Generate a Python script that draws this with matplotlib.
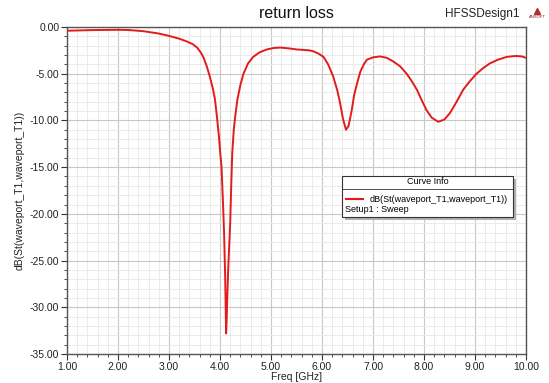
import numpy as np
import matplotlib
matplotlib.use("Agg")
from matplotlib import pyplot as plt
from matplotlib.patches import Rectangle
from matplotlib.lines import Line2D
from matplotlib.ticker import MultipleLocator, FormatStrFormatter

plt.rcParams['font.family'] = ['Liberation Sans', 'DejaVu Sans']

# values (GHz, dB)
freq = [1.0, 1.5, 2.0, 2.2, 2.5, 2.8, 3.0, 3.2, 3.35, 3.47, 3.55, 3.62, 3.68,
        3.74, 3.80, 3.86, 3.90, 3.94, 3.98, 4.01, 4.03, 4.06, 4.08, 4.10, 4.11,
        4.12, 4.13, 4.14, 4.16, 4.18, 4.20, 4.22, 4.24, 4.27, 4.30, 4.34, 4.40,
        4.46, 4.55, 4.65, 4.78, 4.92, 5.05, 5.18, 5.37, 5.50, 5.63, 5.75, 5.83,
        5.93, 6.03, 6.12, 6.22, 6.30, 6.35, 6.41, 6.47, 6.52, 6.58, 6.63, 6.68,
        6.75, 6.82, 6.88, 7.0, 7.14, 7.27, 7.40, 7.53, 7.66, 7.76, 7.86, 7.96,
        8.05, 8.15, 8.28, 8.40, 8.51, 8.64, 8.77, 8.90, 9.03, 9.16, 9.29, 9.45,
        9.62, 9.80, 9.92, 10.0]
s11 = [-0.40, -0.33, -0.30, -0.32, -0.45, -0.70, -0.95, -1.25, -1.55, -1.85,
       -2.2, -2.7, -3.3, -4.2, -5.3, -6.6, -7.7, -9.6, -11.8, -13.8, -15.0,
       -19.0, -22.0, -26.4, -29.5, -32.8, -31.5, -29.5, -26.0, -23.5, -21.0,
       -17.0, -13.5, -11.0, -9.5, -7.8, -6.2, -5.0, -3.9, -3.2, -2.7, -2.4,
       -2.25, -2.2, -2.3, -2.4, -2.45, -2.5, -2.6, -2.85, -3.2, -4.0, -5.3,
       -6.8, -8.0, -9.8, -11.0, -10.6, -9.0, -7.3, -6.2, -4.8, -4.0, -3.5,
       -3.25, -3.15, -3.3, -3.7, -4.2, -5.0, -5.8, -6.7, -7.9, -8.9, -9.7,
       -10.15, -9.9, -9.2, -8.0, -6.7, -5.8, -5.0, -4.4, -3.9, -3.5, -3.2,
       -3.1, -3.15, -3.3]

title = "return loss"
design = "HFSSDesign1"
curve_name = "dB(St(waveport_T1,waveport_T1))"
sweep_name = "Setup1 : Sweep"

W, H = 549, 383
fig = plt.figure(figsize=(W / 100, H / 100), dpi=100)
ax = fig.add_axes([67 / W, 1 - 354 / H, 459 / W, 327 / H])

red = '#e31b1b'
ax.plot(freq, s11, color=red, lw=1.4, zorder=3)

ax.set_xlim(1, 10)
ax.set_ylim(-35, 0)
ax.xaxis.set_major_locator(MultipleLocator(1))
ax.xaxis.set_minor_locator(MultipleLocator(0.2))
ax.yaxis.set_major_locator(MultipleLocator(5))
ax.yaxis.set_minor_locator(MultipleLocator(1))
ax.xaxis.set_major_formatter(FormatStrFormatter('%.2f'))
ax.yaxis.set_major_formatter(FormatStrFormatter('%.2f'))

ax.grid(which='major', color='#c8c8c8', lw=0.8)
ax.grid(which='minor', color='#ebebeb', lw=0.7)
ax.set_axisbelow(True)

for sp in ax.spines.values():
    sp.set_color('#555555')
    sp.set_linewidth(1.0)
ax.tick_params(which='major', length=4, width=0.8, color='#333333',
               labelsize=7.5, pad=1.5, labelcolor='#222222')
ax.tick_params(which='minor', length=2, width=0.6, color='#333333')

ax.set_xlabel("Freq [GHz]", fontsize=7.5, labelpad=0, color='#222222')
ax.set_ylabel(curve_name, fontsize=7.5, labelpad=4, color='#222222')

fig.text(296 / W, 1 - 14 / H, title, ha='center', va='center', fontsize=11.5,
         color='#111111')
fig.text(519 / W, 1 - 14 / H, design, ha='right', va='center', fontsize=8.5,
         color='#222222')
fig.text(537 / W, 1 - 17 / H, "ANSOFT", ha='center', va='center',
         fontsize=3, color='#8a2020')
fig.add_artist(Line2D([537 / W], [1 - 11 / H], marker='^', ms=5,
                      color='#b03030', transform=fig.transFigure))

# curve info box
bx, by, bw, bh = 342 / W, 1 - 217 / H, 171 / W, 41 / H
fig.add_artist(Rectangle((bx + 3 / W, by - 3 / H), bw, bh,
                         transform=fig.transFigure, facecolor='#b0b0b0',
                         edgecolor='none', zorder=4))
fig.add_artist(Rectangle((bx, by), bw, bh, transform=fig.transFigure,
                         facecolor='white', edgecolor='#333333', lw=0.8,
                         zorder=5))
fig.add_artist(Line2D([bx, bx + bw], [1 - 189 / H] * 2, color='#333333',
                      lw=0.6, transform=fig.transFigure, zorder=6))
fig.text(bx + bw / 2, 1 - 182 / H, "Curve Info", ha='center', va='center',
         fontsize=6.5, zorder=7)
fig.add_artist(Line2D([346 / W, 363 / W], [1 - 199 / H] * 2, color=red,
                      lw=1.5, transform=fig.transFigure, zorder=7))
fig.text(370 / W, 1 - 199 / H, curve_name, ha='left', va='center',
         fontsize=6.5, zorder=7)
fig.text(345 / W, 1 - 210 / H, sweep_name, ha='left', va='center',
         fontsize=6.5, zorder=7)

fig.savefig("out.png", dpi=100)
